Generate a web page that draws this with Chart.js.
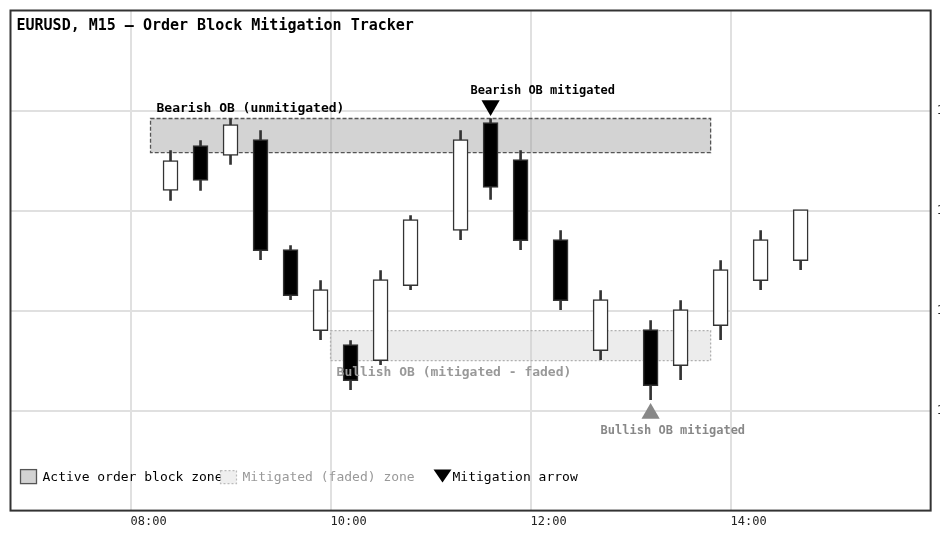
<!DOCTYPE html>
<html><head><meta charset="utf-8">
<script src="https://cdn.jsdelivr.net/npm/chart.js@4.4.1/dist/chart.umd.min.js"></script>
<style>
html,body{margin:0;padding:0;background:#fff;overflow:hidden;width:940px;height:560px}
#wrap{position:relative;width:986px;height:560px}
</style></head>
<body><div id="wrap"><canvas id="c" width="986" height="560"></canvas></div>
<script>
// ---- data ----
const times  = ["08:24","08:42","09:00","09:18","09:36","09:54","10:12","10:30","10:48","11:18","11:36","11:54","12:18","12:42","13:12","13:30","13:54","14:18","14:42"];
const opens  = [1.0852, 1.08565,1.08555,1.08571,1.08461,1.0838, 1.08366,1.0835, 1.08425,1.0848, 1.08588,1.08551,1.08471,1.0836, 1.08381,1.08345,1.08385,1.0843, 1.0845];
const highs  = [1.0856, 1.0857, 1.08592,1.0858, 1.08465,1.0843, 1.0837, 1.0844, 1.08495,1.0858, 1.08592,1.0856, 1.0848, 1.0842, 1.0839, 1.0841, 1.0845, 1.0848, 1.085];
const lows   = [1.0851, 1.0852, 1.08546,1.08451,1.08411,1.08371,1.08321,1.08346,1.08421,1.08471,1.08511,1.08461,1.08401,1.08351,1.08311,1.08331,1.08371,1.08421,1.08441];
const closes = [1.0855, 1.0853, 1.08586,1.0846, 1.08415,1.08421,1.0833, 1.08431,1.08491,1.08571,1.08523,1.0847, 1.0841, 1.08411,1.08325,1.08401,1.08441,1.08471,1.08501];

const xTickLabels = ["08:00","10:00","12:00","14:00"];
const xRange = ["06:48","16:00"];
const yMin = 1.0820, yMax = 1.0870;
const yTickValues = [1.0830, 1.0840, 1.0850, 1.0860];

const zoneLabels  = ["Bearish OB (unmitigated)","Bullish OB (mitigated - faded)"];
const zoneStart   = ["08:12","10:00"];
const zoneEnd     = ["13:48","13:48"];
const zoneTop     = [1.08592,1.0838];
const zoneBottom  = [1.08558,1.0835];
const zoneFaded   = [false,true];

const arrowLabels = ["Bearish OB mitigated","Bullish OB mitigated"];
const arrowTimes  = ["11:36","13:12"];
const arrowPrices = [1.08605,1.08297];
const arrowDown   = [true,false];

const titleText = "EURUSD, M15 \u2014 Order Block Mitigation Tracker";
const legendLabels = ["Active order block zone","Mitigated (faded) zone","Mitigation arrow"];

// ---- helpers ----
const toMin = t => { const [h,m] = t.split(':').map(Number); return h*60+m; };
const fmt = v => String(Math.floor(v/60)).padStart(2,'0')+':'+String(Math.round(v%60)).padStart(2,'0');
const MONO = "'DejaVu Sans Mono', monospace";

const bodyData = times.map((t,i)=>({x:toMin(t), y:[opens[i], closes[i]]}));
const wickData = times.map((t,i)=>({x:toMin(t), y:[lows[i], highs[i]]}));
const bodyFill = times.map((t,i)=> closes[i] >= opens[i] ? '#ffffff' : '#000000');
const arrowData = arrowTimes.map((t,i)=>({x:toMin(t), y:arrowPrices[i]}));

const obPlugin = {
  id:'ob',
  beforeDatasetsDraw(chart){
    const {ctx, chartArea:a, scales:{x,y}} = chart;
    ctx.save();
    ctx.beginPath(); ctx.rect(a.left,a.top,a.width,a.height); ctx.clip();
    zoneLabels.forEach((lab,i)=>{
      const x1 = x.getPixelForValue(toMin(zoneStart[i])), x2 = x.getPixelForValue(toMin(zoneEnd[i]));
      const y1 = y.getPixelForValue(zoneTop[i]), y2 = y.getPixelForValue(zoneBottom[i]);
      if(zoneFaded[i]){
        ctx.fillStyle='rgba(200,200,200,0.35)';
        ctx.strokeStyle='#b0b0b0'; ctx.setLineDash([2,2]); ctx.lineWidth=1.3;
      } else {
        ctx.fillStyle='rgba(150,150,150,0.42)';
        ctx.strokeStyle='#555'; ctx.setLineDash([4,2]); ctx.lineWidth=1.3;
      }
      ctx.fillRect(x1,y1,x2-x1,y2-y1);
      ctx.strokeRect(x1,y1,x2-x1,y2-y1);
    });
    ctx.restore();
  },
  afterDatasetsDraw(chart){
    const {ctx, scales:{x,y}} = chart;
    ctx.save();
    ctx.textAlign='left'; ctx.textBaseline='alphabetic';
    zoneLabels.forEach((lab,i)=>{
      const x1 = x.getPixelForValue(toMin(zoneStart[i]));
      ctx.font = "bold 13px "+MONO;
      if(zoneFaded[i]){
        ctx.fillStyle='#999';
        ctx.fillText(lab, x1+6, y.getPixelForValue(zoneBottom[i])+15.5);
      } else {
        ctx.fillStyle='#000';
        ctx.fillText(lab, x1+6, y.getPixelForValue(zoneTop[i])-6.5);
      }
    });
    arrowLabels.forEach((lab,i)=>{
      const px = x.getPixelForValue(toMin(arrowTimes[i])), py = y.getPixelForValue(arrowPrices[i]);
      ctx.font = "bold 12px "+MONO;
      if(arrowDown[i]){
        ctx.fillStyle='#000';
        ctx.fillText(lab, px-20, py-12);
      } else {
        ctx.fillStyle='#888';
        ctx.fillText(lab, px-50, py+20);
      }
    });
    ctx.restore();
  },
  afterDraw(chart){
    const {ctx, chartArea:a} = chart;
    ctx.save();
    ctx.strokeStyle='#333'; ctx.lineWidth=2; ctx.setLineDash([]);
    ctx.strokeRect(a.left,a.top,a.width,a.height);
    ctx.fillStyle='#000'; ctx.font="bold 15px "+MONO; ctx.textAlign='left'; ctx.textBaseline='alphabetic';
    ctx.fillText(titleText, a.left+6, a.top+19.5);
    const ly = a.bottom-30;
    ctx.font="13px "+MONO;
    ctx.fillStyle='#d3d3d3'; ctx.fillRect(a.left+10, ly-11, 16, 14);
    ctx.strokeStyle='#555'; ctx.lineWidth=1.3; ctx.strokeRect(a.left+10, ly-11, 16, 14);
    ctx.fillStyle='#000'; ctx.fillText(legendLabels[0], a.left+32, ly);
    ctx.fillStyle='#efefef'; ctx.fillRect(a.left+210, ly-10, 16, 13);
    ctx.strokeStyle='#bbb'; ctx.setLineDash([2,2]); ctx.lineWidth=1.2; ctx.strokeRect(a.left+210, ly-10, 16, 13);
    ctx.setLineDash([]);
    ctx.fillStyle='#999'; ctx.fillText(legendLabels[1], a.left+232, ly);
    ctx.fillStyle='#000'; ctx.beginPath();
    ctx.moveTo(a.left+423, ly-11); ctx.lineTo(a.left+441, ly-11); ctx.lineTo(a.left+432, ly+2); ctx.closePath(); ctx.fill();
    ctx.fillText(legendLabels[2], a.left+442, ly);
    ctx.restore();
  }
};

new Chart(document.getElementById('c'), {
  type:'bar',
  data:{
    datasets:[
      {type:'bar', label:'Body', data:bodyData, backgroundColor:bodyFill, borderColor:'#333', borderWidth:1.5,
       borderSkipped:false, barThickness:15, grouped:false, order:1},
      {type:'bar', label:'Wick', data:wickData, backgroundColor:'#333', borderWidth:0,
       barThickness:2, grouped:false, order:2},
      {type:'scatter', label:'Mitigation arrow', data:arrowData, pointStyle:'triangle',
       rotation:arrowDown.map(d=>d?180:0), pointRadius:10.5, pointHoverRadius:10.5,
       backgroundColor:arrowDown.map(d=>d?'#000':'#888'), borderWidth:0, order:0}
    ]
  },
  options:{
    responsive:false, animation:false, events:[],
    layout:{padding:{left:10, top:10, right:0, bottom:27}},
    plugins:{legend:{display:false}, tooltip:{enabled:false}, title:{display:false}},
    scales:{
      x:{type:'linear', offset:false, min:toMin(xRange[0]), max:toMin(xRange[1]),
         afterBuildTicks(s){ s.ticks = xTickLabels.map(t=>({value:toMin(t)})); },
         ticks:{callback:v=>fmt(v), align:'start', padding:4, color:'#222', font:{family:MONO, size:12}, maxRotation:0, autoSkip:false},
         grid:{color:'#e0e0e0', lineWidth:2, drawTicks:false, offset:false},
         border:{display:false}},
      y:{type:'linear', position:'right', min:yMin, max:yMax,
         afterBuildTicks(s){ s.ticks = yTickValues.map(v=>({value:v})); },
         afterFit(s){ s.paddingTop = 0; s.paddingBottom = 0; },
         ticks:{callback:v=>v.toFixed(4), padding:6, color:'#222', font:{family:MONO, size:12}},
         grid:{color:'#e0e0e0', lineWidth:2, drawTicks:false},
         border:{display:false}}
    }
  },
  plugins:[obPlugin]
});
</script>
</body></html>
